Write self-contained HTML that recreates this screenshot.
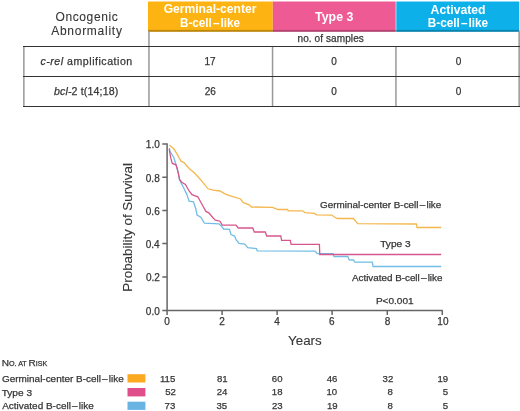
<!DOCTYPE html>
<html><head><meta charset="utf-8">
<style>
html,body{margin:0;padding:0;background:#fff;}
body{width:520px;height:411px;position:relative;overflow:hidden;font-family:"Liberation Sans",sans-serif;}
svg{position:absolute;left:0;top:0;filter:blur(0.35px);}
text{font-family:"Liberation Sans",sans-serif;}
</style></head><body>
<svg width="520" height="411" viewBox="0 0 520 411">
<!-- table header -->
<rect x="148" y="1.5" width="124.8" height="30.3" fill="#FDB312"/>
<rect x="272.8" y="1.5" width="122.9" height="30.3" fill="#EE5A94"/>
<rect x="396.3" y="1.5" width="123" height="30.3" fill="#0DB0E9"/>
<rect x="148" y="29.9" width="371.3" height="1.9" fill="#000" opacity="0.25"/>
<!-- table lines -->
<g fill="#999">
<rect x="23.1" y="46" width="1.5" height="61"/>
<rect x="148.2" y="31" width="1.5" height="76"/>
<rect x="271.8" y="46" width="1.5" height="61"/>
<rect x="395.2" y="46" width="1.5" height="61"/>
<rect x="518.4" y="31" width="1.5" height="76"/>
</g>
<g fill="#333">
<rect x="23" y="46" width="497" height="1"/>
<rect x="23" y="76" width="497" height="1"/>
<rect x="23" y="106" width="497" height="1"/>
</g>
<!-- chart axes -->
<g stroke="#666" stroke-width="1.5" fill="none">
<path d="M162.3,144H167.1V310.5H442.8"/>
<path d="M162.3,177.3H167.1M162.3,210.5H167.1M162.3,243.6H167.1M162.3,276.9H167.1M162.3,310.5H167.1"/>
<path d="M167.1,310.5V315M222.1,310.5V315M277.1,310.5V315M332.1,310.5V315M387.3,310.5V315M442.3,310.5V315"/>
</g>
<!-- curves -->
<g fill="none" stroke-width="1.3" stroke-linejoin="miter">
<path stroke="#F4B74E" d="M169.5,145 L170.1,145.8 L173.8,148.8 L177.4,154.6 L181,161.2 L184,162.6 L189.1,168.5 L194.2,172.8 L197.8,176.5 L202.2,181.6 L208.1,188.8 L213.2,190.2 L220,191 L224.9,193.9 L228.8,195.3 L240.4,199 L243.4,202.6 L249.2,204.8 L251.4,207 L272.6,207.4 L276.9,209.2 L277.9,209.5 L287.6,209.5 L288.2,210.8 L302.7,210.8 L304.9,212.6 L314.4,213.4 L316.6,214.8 L331.9,215.1 L333.4,216.3 L334.4,217 L337.3,218.5 L353.4,218.5 L357.7,223.6 L416.4,224 L417,227.5 L441.2,227.5"/>
<path stroke="#72BDE5" d="M169.6,148.5 L169.8,151 L173.8,157.5 L177.4,169.2 L179.6,180 L184,188.5 L186.9,194.6 L189.1,201.2 L193.5,201.9 L195.7,208.5 L197.1,215 L200.8,217.2 L204.4,223.1 L219,223.8 L221.5,226.2 L223.6,229 L229.5,229.3 L231,234.6 L234.6,236.1 L236,239.7 L239,243.4 L244.8,244.1 L247.7,247.7 L256.5,248.5 L257.2,250.9 L315.1,251.2 L317.3,253.6 L333,253.6 L334,256.5 L347.8,256.5 L349.2,259.9 L353.4,260 L354.8,262.1 L372.3,262.1 L373.1,266.5 L441.2,266.5"/>
<path stroke="#D6578D" d="M169.4,148.5 L169.4,150.5 L170.8,158.2 L172.3,163.4 L176,164.8 L178.1,172.1 L179.6,179.4 L181.8,182.3 L185.4,184.4 L189.1,191 L192,194.6 L197.8,196.8 L202.2,204.8 L205.9,211.4 L208.8,212.8 L213.2,218 L215.4,220.1 L220,221.2 L222.2,225.1 L236,225.1 L238.2,228 L252.8,228 L254.3,232 L265.3,232 L266.7,236 L280.8,236 L281.6,240.3 L290.3,240.3 L291.1,244.3 L319.4,244.3 L319.8,254.5 L441.2,254.5"/>
</g>
<!-- legend swatches -->
<rect x="127.5" y="374.2" width="17.9" height="8.3" fill="#FBAA22"/>
<rect x="127.5" y="388" width="17.9" height="8.4" fill="#E04E8C"/>
<rect x="127.5" y="401.7" width="17.9" height="8.2" fill="#6AB4E4"/>
<text x="163.65" y="13.40" font-size="12" fill="#fff" textLength="92.75" lengthAdjust="spacingAndGlyphs" font-weight="bold">Germinal-center</text>
<text x="179.93" y="26.80" font-size="12" fill="#fff" textLength="60.18" lengthAdjust="spacingAndGlyphs" font-weight="bold">B-cell<tspan font-size="4"> </tspan>–<tspan font-size="4"> </tspan>like</text>
<text x="315.12" y="20.60" font-size="12" fill="#fff" textLength="38.19" lengthAdjust="spacingAndGlyphs" font-weight="bold">Type 3</text>
<text x="430.59" y="13.60" font-size="12" fill="#fff" textLength="54.99" lengthAdjust="spacingAndGlyphs" font-weight="bold">Activated</text>
<text x="427.78" y="26.80" font-size="12" fill="#fff" textLength="60.35" lengthAdjust="spacingAndGlyphs" font-weight="bold">B-cell<tspan font-size="4"> </tspan>–<tspan font-size="4"> </tspan>like</text>
<text x="55.46" y="20.80" font-size="12" fill="#363636" textLength="62.29" lengthAdjust="spacing" stroke="#363636" stroke-width="0.1">Oncogenic</text>
<text x="51.16" y="34.50" font-size="12" fill="#363636" textLength="70.72" lengthAdjust="spacing" stroke="#363636" stroke-width="0.1">Abnormality</text>
<text x="297.50" y="41.80" font-size="10" fill="#363636" textLength="66.37" lengthAdjust="spacing" stroke="#363636" stroke-width="0.25">no. of samples</text>
<text x="40.48" y="65.00" font-size="10.6" fill="#363636" textLength="91.76" lengthAdjust="spacing" stroke="#363636" stroke-width="0.25"><tspan font-style="italic">c-rel</tspan> amplification</text>
<text x="53.90" y="94.90" font-size="10.6" fill="#363636" textLength="64.46" lengthAdjust="spacing" stroke="#363636" stroke-width="0.25"><tspan font-style="italic">bcl-</tspan>2 t(14;18)</text>
<text x="209.98" y="65.00" font-size="10" fill="#363636" text-anchor="middle" stroke="#363636" stroke-width="0.25">17</text>
<text x="210.21" y="95.30" font-size="10" fill="#363636" text-anchor="middle" stroke="#363636" stroke-width="0.25">26</text>
<text x="333.97" y="64.90" font-size="10" fill="#363636" text-anchor="middle" stroke="#363636" stroke-width="0.25">0</text>
<text x="333.97" y="95.30" font-size="10" fill="#363636" text-anchor="middle" stroke="#363636" stroke-width="0.25">0</text>
<text x="458.57" y="64.90" font-size="10" fill="#363636" text-anchor="middle" stroke="#363636" stroke-width="0.25">0</text>
<text x="458.57" y="95.30" font-size="10" fill="#363636" text-anchor="middle" stroke="#363636" stroke-width="0.25">0</text>
<text x="159.74" y="148.40" font-size="10" fill="#363636" text-anchor="end" stroke="#363636" stroke-width="0.25">1.0</text>
<text x="159.71" y="181.70" font-size="10" fill="#363636" text-anchor="end" stroke="#363636" stroke-width="0.25">0.8</text>
<text x="159.71" y="214.90" font-size="10" fill="#363636" text-anchor="end" stroke="#363636" stroke-width="0.25">0.6</text>
<text x="159.56" y="248.00" font-size="10" fill="#363636" text-anchor="end" stroke="#363636" stroke-width="0.25">0.4</text>
<text x="159.90" y="281.30" font-size="10" fill="#363636" text-anchor="end" stroke="#363636" stroke-width="0.25">0.2</text>
<text x="159.74" y="314.90" font-size="10" fill="#363636" text-anchor="end" stroke="#363636" stroke-width="0.25">0.0</text>
<text x="166.97" y="325.40" font-size="10" fill="#363636" text-anchor="middle" stroke="#363636" stroke-width="0.25">0</text>
<text x="221.98" y="325.40" font-size="10" fill="#363636" text-anchor="middle" stroke="#363636" stroke-width="0.25">2</text>
<text x="277.04" y="325.40" font-size="10" fill="#363636" text-anchor="middle" stroke="#363636" stroke-width="0.25">4</text>
<text x="331.84" y="325.40" font-size="10" fill="#363636" text-anchor="middle" stroke="#363636" stroke-width="0.25">6</text>
<text x="387.54" y="325.40" font-size="10" fill="#363636" text-anchor="middle" stroke="#363636" stroke-width="0.25">8</text>
<text x="442.91" y="325.40" font-size="10" fill="#363636" text-anchor="middle" stroke="#363636" stroke-width="0.25">10</text>
<text x="288.05" y="345.30" font-size="12.5" fill="#363636" textLength="33.66" lengthAdjust="spacingAndGlyphs" stroke="#363636" stroke-width="0.1">Years</text>
<text transform="translate(131.90,227.37) rotate(-90)" font-size="12.5" fill="#363636" textLength="128.54" lengthAdjust="spacingAndGlyphs" text-anchor="middle" stroke="#363636" stroke-width="0.1">Probability of Survival</text>
<text x="320.11" y="208.00" font-size="9.2" fill="#363636" textLength="121.19" lengthAdjust="spacingAndGlyphs" stroke="#363636" stroke-width="0.25">Germinal-center B-cell<tspan font-size="4"> </tspan>–<tspan font-size="4"> </tspan>like</text>
<text x="380.21" y="247.40" font-size="9.2" fill="#363636" textLength="30.42" lengthAdjust="spacingAndGlyphs" stroke="#363636" stroke-width="0.25">Type 3</text>
<text x="351.94" y="280.50" font-size="9.2" fill="#363636" textLength="90.49" lengthAdjust="spacingAndGlyphs" stroke="#363636" stroke-width="0.25">Activated B-cell<tspan font-size="4"> </tspan>–<tspan font-size="4"> </tspan>like</text>
<text x="375.92" y="304.00" font-size="9.4" fill="#363636" textLength="37.73" lengthAdjust="spacingAndGlyphs" stroke="#363636" stroke-width="0.25">P&lt;0.001</text>
<text x="1.75" y="365.60" font-size="9.3" fill="#363636" textLength="45.62" lengthAdjust="spacingAndGlyphs" stroke="#363636" stroke-width="0.25"><tspan font-size="9.3">N</tspan><tspan font-size="6.6">O. AT </tspan><tspan font-size="9.3">R</tspan><tspan font-size="6.6">ISK</tspan></text>
<text x="1.99" y="382.30" font-size="9.5" fill="#363636" textLength="121.79" lengthAdjust="spacingAndGlyphs" stroke="#363636" stroke-width="0.25">Germinal-center B-cell<tspan font-size="4"> </tspan>–<tspan font-size="4"> </tspan>like</text>
<text x="1.69" y="395.50" font-size="9.5" fill="#363636" textLength="30.37" lengthAdjust="spacingAndGlyphs" stroke="#363636" stroke-width="0.25">Type 3</text>
<text x="2.19" y="408.80" font-size="9.5" fill="#363636" textLength="91.61" lengthAdjust="spacingAndGlyphs" stroke="#363636" stroke-width="0.25">Activated B-cell<tspan font-size="4"> </tspan>–<tspan font-size="4"> </tspan>like</text>
<text x="175.26" y="382.00" font-size="9.6" fill="#363636" text-anchor="end" stroke="#363636" stroke-width="0.25">115</text>
<text x="227.56" y="382.00" font-size="9.6" fill="#363636" text-anchor="end" stroke="#363636" stroke-width="0.25">81</text>
<text x="282.49" y="382.00" font-size="9.6" fill="#363636" text-anchor="end" stroke="#363636" stroke-width="0.25">60</text>
<text x="337.36" y="382.00" font-size="9.6" fill="#363636" text-anchor="end" stroke="#363636" stroke-width="0.25">46</text>
<text x="393.23" y="382.00" font-size="9.6" fill="#363636" text-anchor="end" stroke="#363636" stroke-width="0.25">32</text>
<text x="448.10" y="382.00" font-size="9.6" fill="#363636" text-anchor="end" stroke="#363636" stroke-width="0.25">19</text>
<text x="175.80" y="395.40" font-size="9.6" fill="#363636" text-anchor="end" stroke="#363636" stroke-width="0.25">52</text>
<text x="227.46" y="395.40" font-size="9.6" fill="#363636" text-anchor="end" stroke="#363636" stroke-width="0.25">24</text>
<text x="282.54" y="395.40" font-size="9.6" fill="#363636" text-anchor="end" stroke="#363636" stroke-width="0.25">18</text>
<text x="337.12" y="395.40" font-size="9.6" fill="#363636" text-anchor="end" stroke="#363636" stroke-width="0.25">10</text>
<text x="392.95" y="395.40" font-size="9.6" fill="#363636" text-anchor="end" stroke="#363636" stroke-width="0.25">8</text>
<text x="448.20" y="395.40" font-size="9.6" fill="#363636" text-anchor="end" stroke="#363636" stroke-width="0.25">5</text>
<text x="175.26" y="409.00" font-size="9.6" fill="#363636" text-anchor="end" stroke="#363636" stroke-width="0.25">73</text>
<text x="227.09" y="409.00" font-size="9.6" fill="#363636" text-anchor="end" stroke="#363636" stroke-width="0.25">35</text>
<text x="282.58" y="409.00" font-size="9.6" fill="#363636" text-anchor="end" stroke="#363636" stroke-width="0.25">23</text>
<text x="337.59" y="409.00" font-size="9.6" fill="#363636" text-anchor="end" stroke="#363636" stroke-width="0.25">19</text>
<text x="392.95" y="409.00" font-size="9.6" fill="#363636" text-anchor="end" stroke="#363636" stroke-width="0.25">8</text>
<text x="448.20" y="409.00" font-size="9.6" fill="#363636" text-anchor="end" stroke="#363636" stroke-width="0.25">5</text>
</svg>
</body></html>
